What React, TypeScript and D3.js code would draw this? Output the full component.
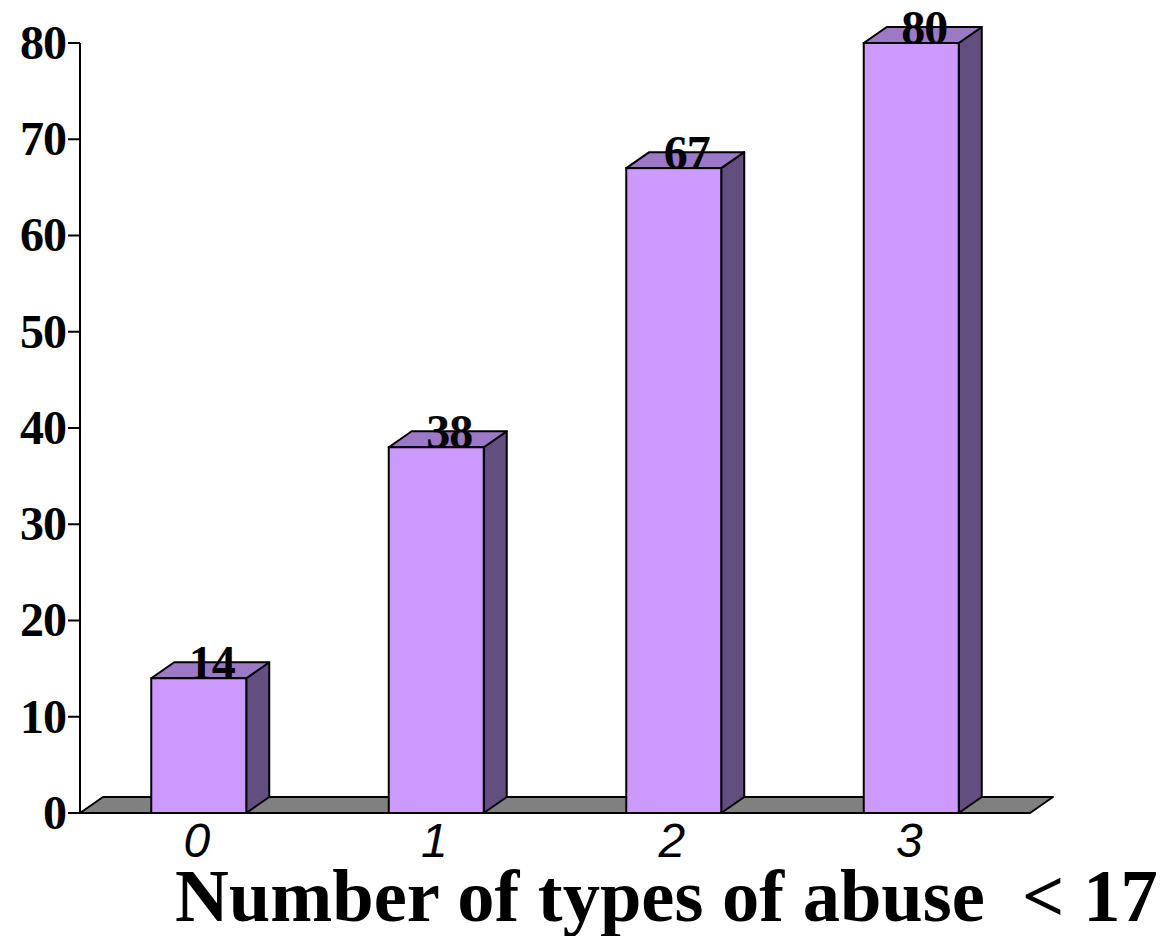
import React, { useEffect, useRef } from "react";
import * as d3 from "d3";

const categories = ["0", "1", "2", "3"];
const values = [14, 38, 67, 80];
const yTicks = [0, 10, 20, 30, 40, 50, 60, 70, 80];
const xTitle = "Number of types of abuse  < 17";

export default function App() {
  const svgRef = useRef(null);

  useEffect(() => {
    const svg = d3.select(svgRef.current);
    svg.selectAll("*").remove();

    const width = 1164;
    const height = 936;
    const left = 80;
    const right = 1030;
    const depthX = 23; // 3d offset
    const depthY = -16;

    const x = d3
      .scaleBand()
      .domain(categories)
      .range([left, right])
      .paddingInner(0.6)
      .paddingOuter(0.3);
    const y = d3.scaleLinear().domain([0, 80]).range([813, 43]);

    svg.attr("width", width).attr("height", height);

    // floor
    const y0 = y(0);
    svg
      .append("path")
      .attr(
        "d",
        `M${left},${y0}L${left + depthX},${y0 + depthY}L${right + depthX},${y0 + depthY}L${right},${y0}Z`,
      )
      .attr("fill", "#808080")
      .attr("stroke", "#000")
      .attr("stroke-width", 2)
      .attr("stroke-linejoin", "round");

    // bars
    const bars = svg
      .append("g")
      .selectAll("g")
      .data(values)
      .join("g");

    bars
      .append("path")
      .attr("d", (d, i) => {
        const x0 = x(categories[i]) + x.bandwidth();
        const yt = y(d);
        return `M${x0},${y0}L${x0 + depthX},${y0 + depthY}L${x0 + depthX},${yt + depthY}L${x0},${yt}Z`;
      })
      .attr("fill", "#634E80")
      .attr("stroke", "#000")
      .attr("stroke-width", 2)
      .attr("stroke-linejoin", "round");

    bars
      .append("path")
      .attr("d", (d, i) => {
        const x0 = x(categories[i]);
        const x1 = x0 + x.bandwidth();
        const yt = y(d);
        return `M${x0},${yt}L${x0 + depthX},${yt + depthY}L${x1 + depthX},${yt + depthY}L${x1},${yt}Z`;
      })
      .attr("fill", "#9B79C6")
      .attr("stroke", "#000")
      .attr("stroke-width", 2)
      .attr("stroke-linejoin", "round");

    bars
      .append("rect")
      .attr("x", (d, i) => x(categories[i]))
      .attr("y", (d) => y(d))
      .attr("width", x.bandwidth())
      .attr("height", (d) => y0 - y(d))
      .attr("fill", "#CC99FF")
      .attr("stroke", "#000")
      .attr("stroke-width", 2);

    bars
      .append("text")
      .attr("x", (d, i) => x(categories[i]) + x.bandwidth() / 2 + 13)
      .attr("y", (d) => y(d) + 1)
      .attr("text-anchor", "middle")
      .attr("font-family", "'Liberation Serif', serif")
      .attr("font-weight", "bold")
      .attr("font-size", 48)
      .attr("letter-spacing", -1)
      .text((d) => d);

    // y axis
    const axis = svg.append("g");
    axis
      .append("line")
      .attr("x1", left)
      .attr("x2", left)
      .attr("y1", y(80))
      .attr("y2", y0)
      .attr("stroke", "#000")
      .attr("stroke-width", 2);

    const ticks = axis.selectAll("g.tick").data(yTicks).join("g");
    ticks
      .append("line")
      .attr("x1", 68)
      .attr("x2", left)
      .attr("y1", (d) => y(d))
      .attr("y2", (d) => y(d))
      .attr("stroke", "#000")
      .attr("stroke-width", 2);
    ticks
      .append("text")
      .attr("x", 66)
      .attr("y", (d) => y(d))
      .attr("dy", "0.33em")
      .attr("text-anchor", "end")
      .attr("font-family", "'Liberation Serif', serif")
      .attr("font-weight", "bold")
      .attr("font-size", 48)
      .attr("letter-spacing", -1)
      .text((d) => d);

    // category labels
    svg
      .append("g")
      .selectAll("text")
      .data(categories)
      .join("text")
      .attr("x", (d) => x(d) + x.bandwidth() / 2 - 2)
      .attr("y", 857)
      .attr("text-anchor", "middle")
      .attr("font-family", "'Liberation Sans', Arial, sans-serif")
      .attr("font-style", "italic")
      .attr("font-size", 48)
      .text((d) => d);

    // axis title
    svg
      .append("text")
      .attr("x", 175)
      .attr("y", 921)
      .attr("font-family", "'Liberation Serif', serif")
      .attr("font-weight", "bold")
      .attr("font-size", 74.5)
      .style("white-space", "pre")
      .text(xTitle);
  }, []);

  return (
    <svg
      ref={svgRef}
      style={{ position: "absolute", left: 0, top: 0, display: "block", background: "#fff" }}
    ></svg>
  );
}
